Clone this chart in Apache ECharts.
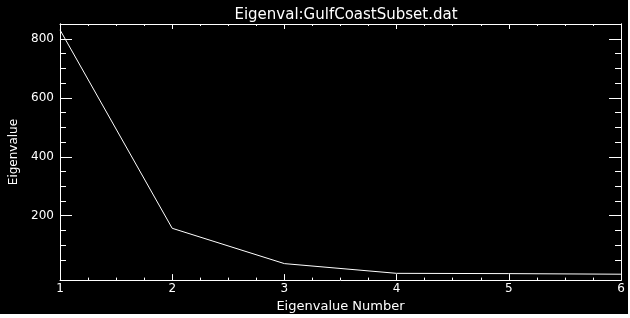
<!DOCTYPE html>
<html>
<head>
<meta charset="utf-8">
<script src="https://cdn.jsdelivr.net/npm/echarts@6/dist/echarts.min.js"></script>
<style>
html,body{margin:0;padding:0;background:#000;}
#c{width:630px;height:318px;}
</style>
</head>
<body>
<div id="c"></div>
<script>
var titleText = 'Eigenval:GulfCoastSubset.dat';
var xName = 'Eigenvalue Number';
var yName = 'Eigenvalue';
var eigenNumbers = [1, 2, 3, 4, 5, 6];
var eigenValues = [831, 157, 37, 4, 3, 1];
var yMajorTicks = [200, 400, 600, 800];
var yMinorTicks = [50, 100, 150, 250, 300, 350, 450, 500, 550, 650, 700, 750, 850];
var yMin = -19, yMax = 851;
var xMin = 1, xMax = 6;

var FONT = 'DejaVu Sans';
var W = '#ffffff';

function yAx(pos, ticks, len, showLabel, extra) {
  var a = {
    type: 'value', position: pos, min: yMin, max: yMax,
    axisLine: {show: true, onZero: false, lineStyle: {color: W, width: 1}},
    axisTick: {show: true, inside: true, length: len, customValues: ticks, lineStyle: {color: W, width: 1}},
    axisLabel: {show: showLabel, customValues: ticks, color: W, fontFamily: FONT, fontSize: 12, margin: 6},
    splitLine: {show: false}
  };
  if (extra) for (var k in extra) a[k] = extra[k];
  return a;
}
function xAx(pos, major, minor, showLabel, extra) {
  var a = {
    type: 'value', position: pos, min: xMin, max: xMax, interval: 1,
    axisLine: {show: true, onZero: false, lineStyle: {color: W, width: 1}},
    axisTick: {show: true, inside: true, length: major, lineStyle: {color: W, width: 1}},
    minorTick: {show: true, splitNumber: 4, length: minor, lineStyle: {color: W, width: 1}},
    axisLabel: {show: showLabel, color: W, fontFamily: FONT, fontSize: 12, margin: 3},
    splitLine: {show: false}
  };
  if (extra) for (var k in extra) a[k] = extra[k];
  return a;
}

var chart = echarts.init(document.getElementById('c'), null, {renderer: 'canvas'});
chart.setOption({
  backgroundColor: '#000',
  animation: false,
  title: {
    text: titleText, left: 341, top: 3, textAlign: 'center',
    textStyle: {color: W, fontFamily: FONT, fontSize: 15, fontWeight: 'normal'}
  },
  grid: {left: 60, right: 9, top: 24, bottom: 33, containLabel: false},
  xAxis: [
    xAx('bottom', 6, 2.5, true, {
      name: xName, nameLocation: 'middle', nameGap: 12,
      nameTextStyle: {color: W, fontFamily: FONT, fontSize: 13, verticalAlign: 'top'}
    }),
    xAx('top', 5, 2, false)
  ],
  yAxis: [
    yAx('left', yMajorTicks, 12, true, {
      name: yName, nameLocation: 'middle', nameGap: 40, nameRotate: 90,
      nameTextStyle: {color: W, fontFamily: FONT, fontSize: 12}
    }),
    yAx('left', yMinorTicks, 6, false),
    yAx('right', yMajorTicks, 12, false),
    yAx('right', yMinorTicks, 6, false)
  ],
  graphic: [
    {type: 'rect', shape: {x: 0, y: 314, width: 630, height: 4}, style: {fill: '#ffffff'}, silent: true},
    {type: 'rect', shape: {x: 628, y: 0, width: 2, height: 318}, style: {fill: '#ffffff'}, silent: true}
  ],
  series: [{
    type: 'line', xAxisIndex: 0, yAxisIndex: 0,
    data: eigenNumbers.map(function (x, i) { return [x, eigenValues[i]]; }),
    showSymbol: false, symbol: 'none',
    lineStyle: {color: W, width: 1},
    clip: true
  }]
});
</script>
</body>
</html>
